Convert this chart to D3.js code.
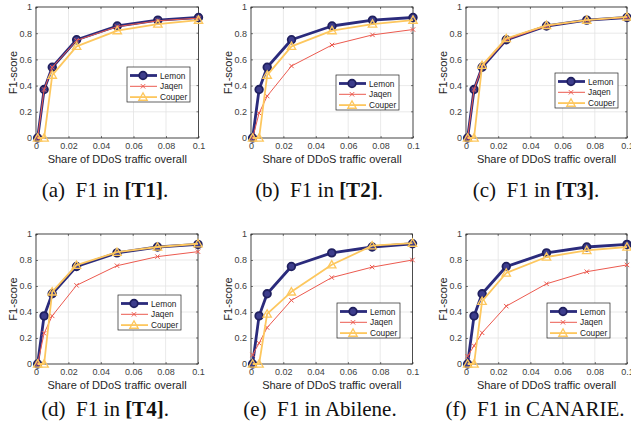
<!DOCTYPE html>
<html><head><meta charset="utf-8">
<script src="https://cdn.jsdelivr.net/npm/d3@7"></script>
<style>body{margin:0;background:#fff}svg{display:block}</style>
</head><body>
<svg id="c" width="631" height="432"></svg>
<script>
// ---- data ----
const shares = [0.001, 0.005, 0.01, 0.025, 0.05, 0.075, 0.1];
const xTicks = [0, 0.02, 0.04, 0.06, 0.08, 0.1];
const yTicks = [0, 0.2, 0.4, 0.6, 0.8, 1];
const seriesNames = ["Lemon", "Jaqen", "Couper"];

const lemonT1  = [0, 0.37, 0.54, 0.75, 0.855, 0.90, 0.92];
const jaqenT1  = [0, 0.37, 0.54, 0.745, 0.85, 0.895, 0.915];
const couperT1 = [0, 0, 0.48, 0.70, 0.82, 0.87, 0.90];

const lemonT2  = [0, 0.37, 0.54, 0.75, 0.855, 0.90, 0.92];
const jaqenT2  = [0, 0.19, 0.32, 0.55, 0.71, 0.787, 0.828];
const couperT2 = [0, 0, 0.48, 0.70, 0.82, 0.87, 0.90];

const lemonT3  = [0, 0.37, 0.54, 0.75, 0.855, 0.90, 0.92];
const jaqenT3  = [0, 0.37, 0.545, 0.75, 0.855, 0.90, 0.92];
const couperT3 = [0, 0, 0.555, 0.76, 0.86, 0.90, 0.925];

const lemonT4  = [0, 0.37, 0.54, 0.75, 0.855, 0.90, 0.92];
const jaqenT4  = [0, 0.236, 0.37, 0.605, 0.756, 0.826, 0.864];
const couperT4 = [0, 0, 0.555, 0.76, 0.86, 0.90, 0.925];

const lemonAb  = [0, 0.37, 0.54, 0.75, 0.855, 0.90, 0.925];
const jaqenAb  = [0.07, 0.16, 0.28, 0.49, 0.665, 0.745, 0.80];
const couperAb = [0, 0, 0.385, 0.555, 0.763, 0.91, 0.93];

const lemonCa  = [0, 0.37, 0.54, 0.75, 0.855, 0.90, 0.92];
const jaqenCa  = [0.06, 0.14, 0.24, 0.445, 0.617, 0.71, 0.762];
const couperCa = [0, 0, 0.483, 0.70, 0.823, 0.874, 0.90];

const captionPre  = ["(a)\u00a0 F1 in ", "(b)\u00a0 F1 in ", "(c)\u00a0 F1 in ", "(d)\u00a0 F1 in ", "(e)\u00a0 F1 in Abilene.", "(f)\u00a0 F1 in CANARIE."];
const captionBold = ["[T1]", "[T2]", "[T3]", "[T4]", "", ""];
const captionPost = [".", ".", ".", ".", "", ""];

const panelData = [
  [lemonT1, jaqenT1, couperT1],
  [lemonT2, jaqenT2, couperT2],
  [lemonT3, jaqenT3, couperT3],
  [lemonT4, jaqenT4, couperT4],
  [lemonAb, jaqenAb, couperAb],
  [lemonCa, jaqenCa, couperCa]
];

// ---- layout (positions only) ----
const layout = [
  {l:36,  t:7,   w:162.5, h:131, lx:127, ly:67,  cx:105, cy:197},
  {l:251, t:7,   w:162,   h:131, lx:336, ly:75,  cx:319, cy:197},
  {l:466, t:7,   w:161,   h:131, lx:555, ly:73,  cx:536, cy:197},
  {l:36,  t:234, w:162,   h:130, lx:118, ly:295, cx:105, cy:416},
  {l:251, t:234, w:161.5, h:130, lx:337, ly:303, cx:320, cy:416},
  {l:466, t:234, w:161,   h:130, lx:547, ly:303, cx:535, cy:416}
];

const colors = {Lemon:"#2b2b7c", Jaqen:"#ec5a4f", Couper:"#fdc75e"};
const svg = d3.select("#c");
const sans = "'Liberation Sans', Arial, sans-serif";
const serif = "'Liberation Serif', 'Times New Roman', serif";
const axisCol = "#262626";

function marker(g, name, x, y) {
  if (name === "Lemon") {
    g.append("circle").attr("cx", x).attr("cy", y).attr("r", 3.8)
      .attr("fill", "#3d3d8c").attr("stroke", "#20205f").attr("stroke-width", 1.8);
  } else if (name === "Jaqen") {
    const s = 2.2;
    g.append("path").attr("d", `M${x-s},${y-s}L${x+s},${y+s}M${x-s},${y+s}L${x+s},${y-s}`)
      .attr("stroke", colors.Jaqen).attr("stroke-width", 1).attr("fill", "none");
  } else {
    const s = 4.2;
    g.append("path").attr("d", `M${x},${y-s}L${x+s},${y+s*0.75}L${x-s},${y+s*0.75}Z`)
      .attr("stroke", colors.Couper).attr("stroke-width", 1.3).attr("fill", "none");
  }
}
const lineW = {Lemon:2.8, Jaqen:1, Couper:1.8};

layout.forEach((L, i) => {
  const x = d3.scaleLinear().domain([0, 0.1]).range([L.l, L.l + L.w]);
  const y = d3.scaleLinear().domain([0, 1]).range([L.t + L.h, L.t]);
  const g = svg.append("g");

  // grid
  g.append("g").selectAll("line").data(xTicks).join("line")
    .attr("x1", d => x(d)).attr("x2", d => x(d)).attr("y1", L.t).attr("y2", L.t + L.h)
    .attr("stroke", "#e3e3e3").attr("stroke-width", 0.8);
  g.append("g").selectAll("line").data(yTicks).join("line")
    .attr("y1", d => y(d)).attr("y2", d => y(d)).attr("x1", L.l).attr("x2", L.l + L.w)
    .attr("stroke", "#e3e3e3").attr("stroke-width", 0.8);

  // axes
  const ax = d3.axisBottom(x).tickValues(xTicks).tickSize(-2).tickPadding(5).tickFormat(d => d3.format("~g")(d));
  const ay = d3.axisLeft(y).tickValues(yTicks).tickSize(-2).tickPadding(4).tickFormat(d => d3.format("~g")(d));
  const gx = g.append("g").attr("transform", `translate(0,${L.t + L.h})`).call(ax);
  const gy = g.append("g").attr("transform", `translate(${L.l},0)`).call(ay);
  [gx, gy].forEach(a => {
    a.select(".domain").remove();
    a.selectAll("line").attr("stroke", axisCol).attr("stroke-width", 0.6);
    a.selectAll("text").attr("fill", "#404040").attr("font-family", sans).attr("font-size", 9);
  });
  // top/right ticks
  g.append("g").selectAll("line").data(xTicks).join("line")
    .attr("x1", d => x(d)).attr("x2", d => x(d)).attr("y1", L.t).attr("y2", L.t + 2)
    .attr("stroke", axisCol).attr("stroke-width", 0.6);
  g.append("g").selectAll("line").data(yTicks).join("line")
    .attr("y1", d => y(d)).attr("y2", d => y(d)).attr("x1", L.l + L.w).attr("x2", L.l + L.w - 2)
    .attr("stroke", axisCol).attr("stroke-width", 0.6);
  g.append("rect").attr("x", L.l).attr("y", L.t).attr("width", L.w).attr("height", L.h)
    .attr("fill", "none").attr("stroke", axisCol).attr("stroke-width", 0.8);

  // axis titles
  g.append("text").attr("x", L.l + L.w / 2).attr("y", L.t + L.h + 25)
    .attr("text-anchor", "middle").attr("font-family", sans).attr("font-size", 11)
    .attr("fill", "#262626").text("Share of DDoS traffic overall");
  g.append("text").attr("transform", `translate(${L.l - 19},${L.t + L.h / 2}) rotate(-90)`)
    .attr("text-anchor", "middle").attr("font-family", sans).attr("font-size", 11)
    .attr("fill", "#262626").text("F1-score");

  // series
  const line = d3.line().x((d, k) => x(shares[k])).y(d => y(d));
  panelData[i].forEach((vals, s) => {
    const name = seriesNames[s];
    const sg = g.append("g");
    sg.append("path").attr("d", line(vals)).attr("fill", "none")
      .attr("stroke", colors[name]).attr("stroke-width", lineW[name]).attr("stroke-linejoin", "round");
    vals.forEach((v, k) => marker(sg, name, x(shares[k]), y(v)));
  });

  // legend
  const lg = g.append("g");
  lg.append("rect").attr("x", L.lx).attr("y", L.ly).attr("width", 63).attr("height", 35)
    .attr("fill", "#fff").attr("stroke", "#222").attr("stroke-width", 0.7);
  seriesNames.forEach((name, s) => {
    const yy = L.ly + 8.5 + s * 10.8;
    lg.append("line").attr("x1", L.lx + 3).attr("x2", L.lx + 30).attr("y1", yy).attr("y2", yy)
      .attr("stroke", colors[name]).attr("stroke-width", lineW[name]);
    marker(lg, name, L.lx + 16, yy);
    lg.append("text").attr("x", L.lx + 33).attr("y", yy + 3).attr("font-family", sans)
      .attr("font-size", 8.3).attr("fill", "#222").text(name);
  });

  // caption
  const cap = svg.append("text").attr("x", L.cx).attr("y", L.cy).attr("text-anchor", "middle")
    .attr("font-family", serif).attr("font-size", 21).attr("fill", "#111");
  cap.append("tspan").text(captionPre[i]);
  if (captionBold[i]) cap.append("tspan").attr("font-weight", "bold").text(captionBold[i]);
  if (captionPost[i]) cap.append("tspan").text(captionPost[i]);
});
</script>
</body></html>
